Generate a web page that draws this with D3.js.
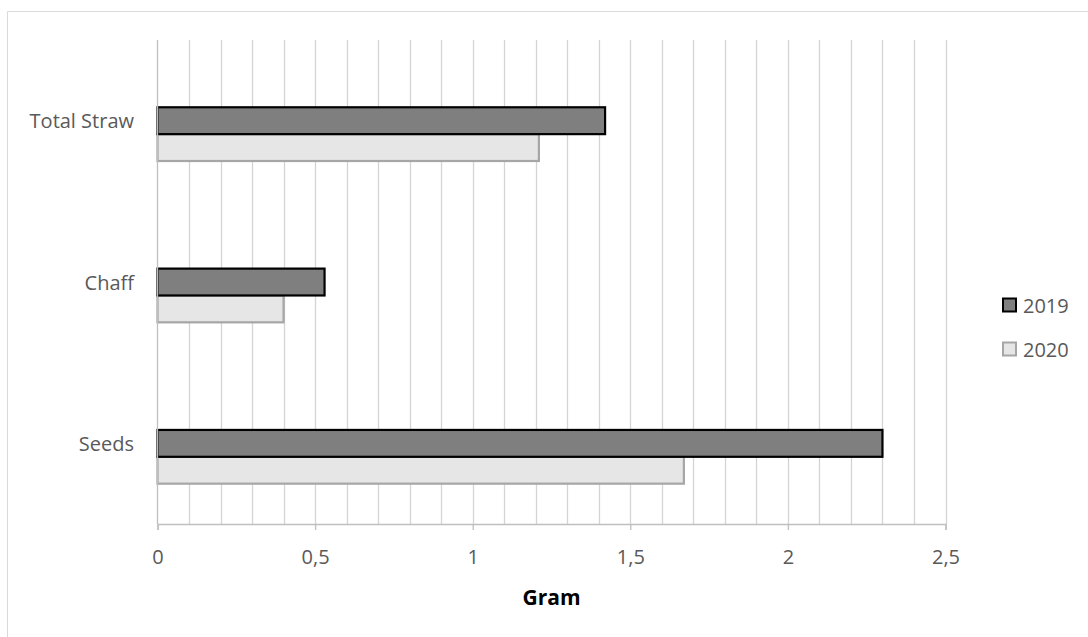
<!DOCTYPE html>
<html>
<head>
<meta charset="utf-8">
<script src="https://cdn.jsdelivr.net/npm/d3@7"></script>
<style>
  html, body { margin: 0; padding: 0; background: #fff; }
  svg text { font-family: "Open Sans", "Noto Sans", sans-serif; }
</style>
</head>
<body>
<svg id="chart" width="1088" height="637"></svg>
<script>
// Dry mass per plant part, in grams
const categories = ["Total Straw", "Chaff", "Seeds"];
const seriesNames = ["2019", "2020"];
const values2019 = [1.42, 0.53, 2.30];
const values2020 = [1.21, 0.40, 1.67];
const xTicks = [0, 0.5, 1, 1.5, 2, 2.5];
const xTickLabels = ["0", "0,5", "1", "1,5", "2", "2,5"];
const xAxisTitle = "Gram";

const seriesStyle = {
  "2019": { fill: "#7f7f7f", stroke: "#000000" },
  "2020": { fill: "#e7e6e6", stroke: "#a6a6a6" }
};

const svg = d3.select("#chart");

// chart frame
svg.append("path")
  .attr("d", "M7.5,637 L7.5,11.5 L1088,11.5")
  .attr("fill", "none")
  .attr("stroke", "#d9d9d9")
  .attr("stroke-width", 1);

const plot = { left: 157.5, right: 945.5, top: 40, bottom: 524 };

const x = d3.scaleLinear().domain([0, 2.5]).range([plot.left, plot.right]);
const y = d3.scaleBand().domain(categories).range([plot.top, plot.bottom]).padding(0);
const bw = y.bandwidth();
const ySub = d3.scaleBand().domain(seriesNames).range([bw * 0.417, bw * 0.75]).padding(0);

// vertical gridlines every 0.1
const gridVals = d3.range(1, 26).map(i => i / 10);
svg.append("g").selectAll("line").data(gridVals).join("line")
  .attr("x1", d => Math.round(x(d)) + 0.5).attr("x2", d => Math.round(x(d)) + 0.5)
  .attr("y1", plot.top).attr("y2", plot.bottom)
  .attr("stroke", "#d4d4d4").attr("stroke-width", 1.3);

// bars
const rows = [];
categories.forEach((c, i) => {
  rows.push({ cat: c, series: "2019", value: values2019[i] });
  rows.push({ cat: c, series: "2020", value: values2020[i] });
});
// draw 2020 first so the darker outline of 2019 stays on top
const order = rows.slice().sort((a, b) => (a.series === "2020" ? -1 : 1) - (b.series === "2020" ? -1 : 1));
svg.append("g").selectAll("rect").data(order).join("rect")
  .attr("x", x(0))
  .attr("y", d => y(d.cat) + ySub(d.series))
  .attr("width", d => x(d.value) - x(0))
  .attr("height", ySub.bandwidth())
  .attr("fill", d => seriesStyle[d.series].fill)
  .attr("stroke", d => seriesStyle[d.series].stroke)
  .attr("stroke-width", 2.2);

// y axis line
svg.append("line")
  .attr("x1", plot.left).attr("x2", plot.left)
  .attr("y1", plot.top).attr("y2", plot.bottom)
  .attr("stroke", "#bfbfbf").attr("stroke-width", 1.3);

// x axis
const xAxis = d3.axisBottom(x)
  .tickValues(xTicks)
  .tickFormat((d, i) => xTickLabels[i])
  .tickSizeOuter(0)
  .tickSize(6)
  .tickPadding(20);
const gx = svg.append("g").attr("transform", `translate(0,${plot.bottom})`).call(xAxis);
gx.select(".domain").attr("stroke", "#bfbfbf").attr("stroke-width", 1.3);
gx.selectAll(".tick line").attr("stroke", "#bfbfbf").attr("stroke-width", 1.3);
gx.selectAll(".tick text")
  .attr("fill", "#595959")
  .style("font-size", "20px")
  .style("font-family", "'Open Sans', 'Noto Sans', sans-serif");

// category labels
svg.append("g").selectAll("text").data(categories).join("text")
  .attr("x", 134)
  .attr("y", d => y(d) + bw / 2)
  .attr("text-anchor", "end")
  .attr("dominant-baseline", "central")
  .attr("fill", "#595959")
  .style("font-size", "20px")
  .text(d => d);

// axis title
svg.append("text")
  .attr("x", (plot.left + plot.right) / 2)
  .attr("y", 597)
  .attr("text-anchor", "middle")
  .attr("dominant-baseline", "central")
  .attr("fill", "#000")
  .style("font-size", "21px")
  .style("font-weight", "bold")
  .text(xAxisTitle);

// legend
const legend = svg.append("g").selectAll("g").data(seriesNames).join("g")
  .attr("transform", (d, i) => `translate(1003,${305 + i * 44})`);
legend.append("rect")
  .attr("x", 0).attr("y", -6.5).attr("width", 13).attr("height", 13)
  .attr("fill", d => seriesStyle[d].fill)
  .attr("stroke", d => seriesStyle[d].stroke)
  .attr("stroke-width", 2);
legend.append("text")
  .attr("x", 20).attr("y", 0)
  .attr("dominant-baseline", "central")
  .attr("fill", "#595959")
  .style("font-size", "20px")
  .text(d => d);
</script>
</body>
</html>
